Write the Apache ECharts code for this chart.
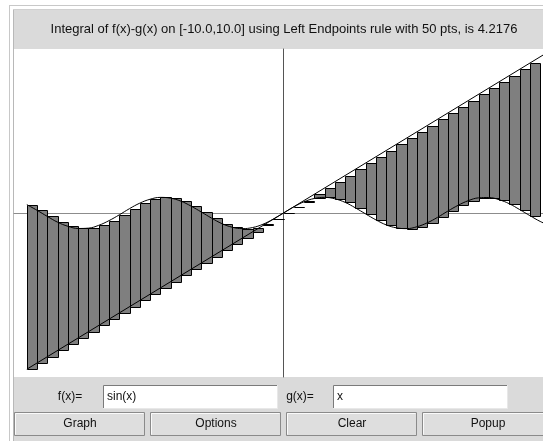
<!DOCTYPE html>
<html>
<head>
<meta charset="utf-8">
<script src="https://cdn.jsdelivr.net/npm/echarts@6/dist/echarts.min.js"></script>
<style>
  html, body { margin: 0; padding: 0; background: #fff; }
  #chart { width: 543px; height: 441px; }
</style>
</head>
<body>
<div id="chart"></div>
<script>
// left endpoints of the 50 sub-intervals on [-10, 10]
const xLeft = [-10, -9.6, -9.2, -8.8, -8.4, -8, -7.6, -7.2, -6.8, -6.4,
  -6, -5.6, -5.2, -4.8, -4.4, -4, -3.6, -3.2, -2.8, -2.4,
  -2, -1.6, -1.2, -0.8, -0.4, 0, 0.4, 0.8, 1.2, 1.6,
  2, 2.4, 2.8, 3.2, 3.6, 4, 4.4, 4.8, 5.2, 5.6,
  6, 6.4, 6.8, 7.2, 7.6, 8, 8.4, 8.8, 9.2, 9.6];
// f(x) = sin(x) at the left endpoints
const fLeft = [0.54, 0.17, -0.22, -0.59, -0.85, -0.99, -0.97, -0.79, -0.49, -0.12,
  0.28, 0.63, 0.88, 1.0, 0.95, 0.76, 0.44, 0.06, -0.33, -0.68,
  -0.91, -1.0, -0.93, -0.72, -0.39, 0, 0.39, 0.72, 0.93, 1.0,
  0.91, 0.68, 0.33, -0.06, -0.44, -0.76, -0.95, -1.0, -0.88, -0.63,
  -0.28, 0.12, 0.49, 0.79, 0.97, 0.99, 0.85, 0.59, 0.22, -0.17];
// g(x) = x at the left endpoints
const gLeft = [-10, -9.6, -9.2, -8.8, -8.4, -8, -7.6, -7.2, -6.8, -6.4,
  -6, -5.6, -5.2, -4.8, -4.4, -4, -3.6, -3.2, -2.8, -2.4,
  -2, -1.6, -1.2, -0.8, -0.4, 0, 0.4, 0.8, 1.2, 1.6,
  2, 2.4, 2.8, 3.2, 3.6, 4, 4.4, 4.8, 5.2, 5.6,
  6, 6.4, 6.8, 7.2, 7.6, 8, 8.4, 8.8, 9.2, 9.6];
// extra curve points past the last endpoint
const xTail = [10, 10.4];
const fTail = [-0.54, -0.83];
const gTail = [10, 10.4];
const dx = 0.4;

const titleText = 'Integral of f(x)-g(x) on [-10.0,10.0] using Left Endpoints rule with 50 pts, is 4.2176';
const buttons = ['Graph', 'Options', 'Clear', 'Popup'];

const fCurve = xLeft.map((x, i) => [x, fLeft[i]]).concat(xTail.map((x, i) => [x, fTail[i]]));
const gCurve = [[xLeft[0], gLeft[0]], [xTail[1], gTail[1]]];
const rects = xLeft.map((x, i) => [x, gLeft[i], fLeft[i]]);

const chart = echarts.init(document.getElementById('chart'));

const FONT = '12px "Liberation Sans", Arial, sans-serif';
const panel = '#dadada';

const graphic = [
  // outer frame lines
  { type: 'line', shape: { x1: 9.5, y1: 5, x2: 9.5, y2: 441 }, style: { stroke: '#c8c8c8', lineWidth: 1 } },
  { type: 'line', shape: { x1: 9, y1: 5.5, x2: 543, y2: 5.5 }, style: { stroke: '#c8c8c8', lineWidth: 1 } },
  { type: 'line', shape: { x1: 13.5, y1: 9, x2: 13.5, y2: 441 }, style: { stroke: '#b8b8b8', lineWidth: 1 } },
  { type: 'line', shape: { x1: 13, y1: 9.5, x2: 543, y2: 9.5 }, style: { stroke: '#d0d0d0', lineWidth: 1 } },
  // title bar
  { type: 'rect', shape: { x: 14, y: 10, width: 540, height: 39 }, style: { fill: panel } },
  { type: 'text', x: 284, y: 29, style: { text: titleText, font: '13px "Liberation Sans", Arial, sans-serif', fill: '#111', textAlign: 'center', textVerticalAlign: 'middle' } },
  // bottom panel
  { type: 'rect', shape: { x: 14, y: 377, width: 540, height: 64 }, style: { fill: panel } },
  { type: 'text', x: 70, y: 397, style: { text: 'f(x)=', font: FONT, fill: '#111', textAlign: 'center', textVerticalAlign: 'middle' } },
  { type: 'text', x: 300, y: 397, style: { text: 'g(x)=', font: FONT, fill: '#111', textAlign: 'center', textVerticalAlign: 'middle' } }
];

// text fields
[[103, 'sin(x)'], [333, 'x']].forEach(([x0, t]) => {
  graphic.push({ type: 'rect', shape: { x: x0 + 0.5, y: 385.5, width: 174, height: 23 }, style: { fill: '#fff', stroke: '#e8e8e8', lineWidth: 1 } });
  graphic.push({ type: 'polyline', shape: { points: [[x0 + 0.5, 408], [x0 + 0.5, 385.5], [x0 + 174, 385.5]] }, style: { stroke: '#7a7a7a', lineWidth: 1, fill: null } });
  graphic.push({ type: 'text', x: x0 + 4, y: 397, style: { text: t, font: FONT, fill: '#111', textAlign: 'left', textVerticalAlign: 'middle' } });
});

// buttons
buttons.forEach((b, i) => {
  const x0 = 14 + i * 136;
  graphic.push({ type: 'rect', shape: { x: x0 + 0.5, y: 412.5, width: 130, height: 23 }, style: { fill: '#dedede', stroke: '#8a8a8a', lineWidth: 1 } });
  graphic.push({ type: 'polyline', shape: { points: [[x0 + 1.5, 434.5], [x0 + 1.5, 413.5], [x0 + 129.5, 413.5]] }, style: { stroke: '#fafafa', lineWidth: 1, fill: null } });
  graphic.push({ type: 'text', x: x0 + 66, y: 424, style: { text: b, font: FONT, fill: '#111', textAlign: 'center', textVerticalAlign: 'middle' } });
});

const option = {
  animation: false,
  backgroundColor: '#fff',
  grid: { left: 14, right: 0, top: 49, bottom: 64 },
  xAxis: {
    type: 'value', min: -10.5, max: 10.11,
    axisLine: { onZero: true, lineStyle: { color: '#8c8c8c', width: 1 } },
    axisTick: { show: false }, axisLabel: { show: false }, splitLine: { show: false }
  },
  yAxis: {
    type: 'value', min: -10.5, max: 10.5,
    axisLine: { onZero: true, lineStyle: { color: '#555', width: 1 } },
    axisTick: { show: false }, axisLabel: { show: false }, splitLine: { show: false }
  },
  graphic: graphic,
  series: [
    {
      type: 'custom',
      data: rects,
      renderItem: (params, api) => {
        const x = api.value(0), g = api.value(1), f = api.value(2);
        const p1 = api.coord([x, g]);
        const p2 = api.coord([x + dx, f]);
        const x0 = Math.round(Math.min(p1[0], p2[0])) + 0.5;
        const x1 = Math.round(Math.max(p1[0], p2[0])) + 0.5;
        const y0 = Math.round(Math.min(p1[1], p2[1])) + 0.5;
        const y1 = Math.round(Math.max(p1[1], p2[1])) + 0.5;
        return {
          type: 'rect',
          shape: { x: x0, y: y0, width: x1 - x0, height: y1 - y0 },
          style: { fill: '#7f7f7f', stroke: '#000', lineWidth: 1 }
        };
      },
      z: 2
    },
    {
      type: 'line', data: fCurve, smooth: 0.4, showSymbol: false,
      lineStyle: { color: '#000', width: 1 }, z: 3
    },
    {
      type: 'line', data: gCurve, showSymbol: false,
      lineStyle: { color: '#000', width: 1 }, z: 3
    }
  ]
};

chart.setOption(option);
window.addEventListener('resize', chart.resize);
</script>
</body>
</html>
